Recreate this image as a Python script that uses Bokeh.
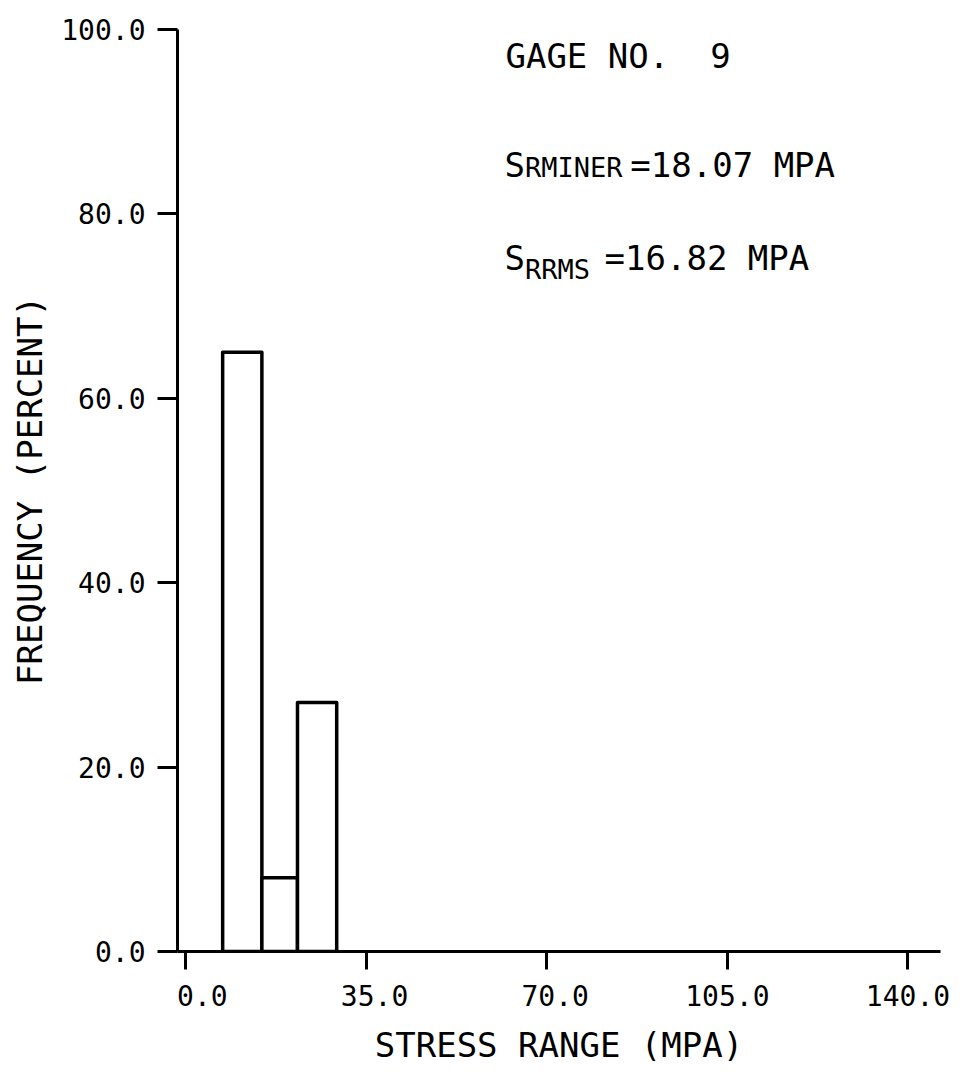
from bokeh.plotting import figure
from bokeh.models import Range1d, FixedTicker, Label
from bokeh.embed import file_html
from bokeh.resources import INLINE

# ---- data ----
bin_left = [7.2, 14.8, 21.7]
bin_right = [14.8, 21.7, 29.3]
frequency = [65.0, 8.0, 27.0]

x_ticks = [0, 35, 70, 105, 140]
x_tick_labels = ["0.0", "35.0", "70.0", "105.0", "140.0"]
y_ticks = [0, 20, 40, 60, 80, 100]
y_tick_labels = ["0.0", "20.0", "40.0", "60.0", "80.0", "100.0"]

x_title = "STRESS RANGE (MPA)"
y_title = "FREQUENCY (PERCENT)"
gage_text = "GAGE NO.  9"
miner_sub, miner_val = "RMINER", "=18.07 MPA"
rms_sub, rms_val = "RRMS", "=16.82 MPA"

FONT = "DejaVu Sans Mono"
NB = "\u00a0"

p = figure(width=956, height=1067, output_backend="svg", toolbar_location=None,
           x_range=Range1d(-1.55, 146.3), y_range=Range1d(0, 100),
           min_border_left=177, min_border_right=16, min_border_top=29,
           min_border_bottom=110)
p.outline_line_color = None
p.xgrid.visible = False
p.ygrid.visible = False
p.background_fill_color = "white"
p.border_fill_color = "white"

p.quad(left=bin_left, right=bin_right, bottom=0, top=frequency,
       fill_color="white", line_color="black", line_width=3.5, line_join="round")

for ax, ticks in ((p.xaxis[0], x_ticks), (p.yaxis[0], y_ticks)):
    ax.ticker = FixedTicker(ticks=ticks)
    ax.axis_line_width = 3
    ax.axis_line_color = "black"
    ax.major_tick_line_width = 3
    ax.major_tick_line_color = "black"
    ax.minor_tick_line_color = None
    ax.major_tick_in = 0
    ax.major_label_text_font = FONT
    ax.major_label_text_font_size = "28px"
    ax.major_label_text_color = "black"
    ax.axis_label_text_font = FONT
    ax.axis_label_text_font_size = "34px"
    ax.axis_label_text_font_style = "normal"
    ax.axis_label_text_color = "black"

p.xaxis[0].major_label_overrides = {t: l.rjust(5, NB) for t, l in zip(x_ticks, x_tick_labels)}
p.yaxis[0].major_label_overrides = {t: l for t, l in zip(y_ticks, y_tick_labels)}
p.xaxis[0].major_tick_out = 18
p.yaxis[0].major_tick_out = 20
p.xaxis[0].major_label_standoff = 10
p.yaxis[0].major_label_standoff = 12
p.xaxis[0].axis_label = x_title
p.yaxis[0].axis_label = y_title
p.xaxis[0].axis_label_standoff = 9
p.yaxis[0].axis_label_standoff = 8


def lab(text, x, y, size):
    p.add_layout(Label(x=x, y=y, text=text.replace("  ", " " + NB), text_font=FONT,
                       text_font_size=size, text_color="black", text_align="left",
                       text_baseline="alphabetic"))


lab(gage_text, 62.0, 97.1, "34px")
lab("S", 61.8, 85.3, "34px")
lab(miner_sub, 65.8, 85.0, "27px")
lab(miner_val, 86.2, 85.3, "34px")
lab("S", 61.8, 75.2, "34px")
lab(rms_sub, 65.8, 74.0, "27px")
lab(rms_val, 81.2, 75.2, "34px")

open("out.html", "w").write(file_html(p, INLINE))
